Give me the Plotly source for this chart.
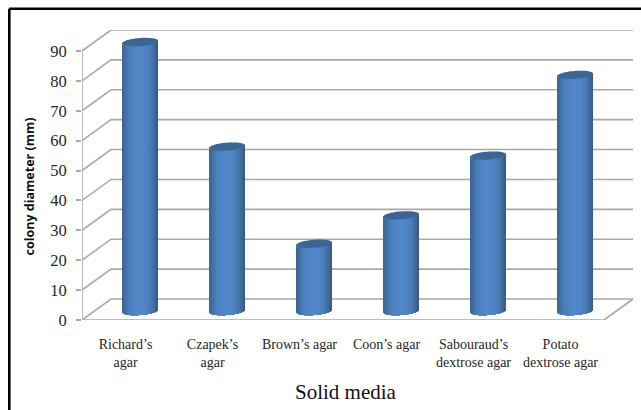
import numpy as np
import plotly.graph_objects as go

# Colony growth by culture medium
categories = ["Richard’s<br>agar", "Czapek’s<br>agar", "Brown’s agar", "Coon’s agar",
              "Sabouraud’s<br>dextrose agar", "Potato<br>dextrose agar"]
diameters = [90, 55, 22.5, 32, 52, 79]
y_ticks = [0, 10, 20, 30, 40, 50, 60, 70, 80, 90]

# Plot box in page pixels and the oblique depth of the 3-D room
LEFT, RIGHT, TOP, BOTTOM = 82, 634, 30, 320
W, H = 641, 410
PX_PER_CAT = 87.0
PX_PER_UNIT = 269 / 90
DEPTH_X = 29 / PX_PER_CAT
DEPTH_Y = 21 / PX_PER_UNIT
X_MAX = (RIGHT - LEFT) / PX_PER_CAT
Y_MAX = (BOTTOM - TOP) / PX_PER_UNIT
N = len(categories)

GRID = "#a9a9a9"
TEXT = "#262626"
SHADES = ["#3b6593", "#3f6c9d", "#4373a8", "#4679b1", "#497eb8", "#4b81bd", "#4d83c1", "#4e85c4",
          "#5086c6", "#5187c8", "#5187c8", "#5187c8", "#5187c8", "#5086c6", "#4f84c4", "#4d82c0",
          "#4b7fbb", "#487ab4", "#4574aa", "#416d9f", "#3c6592", "#375d87"]

fig = go.Figure()


def wall_lines(xs, ys):
    fig.add_trace(go.Scatter(x=xs, y=ys, mode="lines", hoverinfo="skip", showlegend=False,
                             line=dict(color=GRID, width=1.6)))


# Back wall gridlines and their slanted returns along the side wall
for v in y_ticks:
    wall_lines([0, DEPTH_X, N + DEPTH_X], [v, v + DEPTH_Y, v + DEPTH_Y])
# Front edges of the wall and floor
wall_lines([0, 0], [0, y_ticks[-1]])
wall_lines([0, N, N + DEPTH_X], [0, 0, DEPTH_Y])

# Cylinders: each shade is painted from its left edge to the far right of the body,
# and later shades cover it, which leaves no seams between the strips
HALF_W = 18.0 / PX_PER_CAT
CAP_H = 4.0 / PX_PER_UNIT
TILT = 1.35 / PX_PER_UNIT
BASE = 3.0
edges = np.linspace(-1, 1, len(SHADES) + 1)


def rim(u, level, sign):
    return level + sign * CAP_H * np.sqrt(np.clip(1 - u ** 2, 0, 1)) + TILT * u


for s, shade in enumerate(SHADES):
    u = np.linspace(edges[s], 1, 40)
    xs, ys = [], []
    for i, d in enumerate(diameters):
        cx = i + 0.5 + DEPTH_X / 2
        px = cx + u * HALF_W
        xs += list(px) + list(px[::-1]) + [None]
        ys += list(rim(u, BASE + d, -1)) + list(rim(u[::-1], BASE, -1)) + [None]
    fig.add_trace(go.Scatter(x=xs, y=ys, mode="none", fill="toself", fillcolor=shade,
                             hoverinfo="skip", showlegend=False))

t = np.linspace(0, 2 * np.pi, 60)
for i, d in enumerate(diameters):
    cx = i + 0.5 + DEPTH_X / 2
    u = np.cos(t)
    fig.add_trace(go.Scatter(x=cx + u * HALF_W, y=BASE + d + CAP_H * np.sin(t) + TILT * u,
                             mode="none", fill="toself", fillcolor="#3a6594",
                             hoverinfo="skip", showlegend=False))

PW, PH = RIGHT - LEFT, BOTTOM - TOP


def paper_x(px):
    return (px - LEFT) / PW


def paper_y(py):
    return (BOTTOM - py) / PH


fig.update_layout(
    width=W, height=H, autosize=False,
    margin=dict(l=LEFT, r=W - RIGHT, t=TOP, b=H - BOTTOM, pad=0),
    paper_bgcolor="white", plot_bgcolor="rgba(0,0,0,0)",
    showlegend=False,
    xaxis=dict(range=[0, X_MAX], tickmode="array", tickvals=[i + 0.5 for i in range(N)],
               ticktext=categories, showgrid=False, zeroline=False, showline=False,
               ticks="", ticklabelstandoff=14,
               tickfont=dict(family="Liberation Serif", size=14, color=TEXT)),
    yaxis=dict(range=[0, Y_MAX], tickmode="array", tickvals=y_ticks, showgrid=False,
               zeroline=False, showline=False, ticks="outside", ticklen=5, tickwidth=1.5,
               tickcolor=GRID, ticklabelstandoff=6,
               tickfont=dict(family="Liberation Serif", size=16.5, color=TEXT)),
    shapes=[
        dict(type="line", xref="paper", yref="paper", layer="above",
             x0=paper_x(9.3), x1=paper_x(W), y0=paper_y(8.8), y1=paper_y(8.8),
             line=dict(color="black", width=2.6)),
        dict(type="line", xref="paper", yref="paper", layer="above",
             x0=paper_x(9.3), x1=paper_x(9.3), y0=paper_y(8.8), y1=paper_y(H),
             line=dict(color="black", width=2.6)),
    ],
    annotations=[
        dict(text="<b>colony diameter (mm)</b>", xref="paper", yref="paper", textangle=-90,
             x=paper_x(29), y=paper_y(186.5), showarrow=False, xanchor="center", yanchor="middle",
             font=dict(family="Open Sans", size=12.5, color="#111111")),
        dict(text="Solid media", xref="paper", yref="paper",
             x=paper_x(346), y=paper_y(392), showarrow=False, xanchor="center", yanchor="middle",
             font=dict(family="Liberation Serif", size=21, color="#111111")),
    ],
)

fig.write_html("out.html")
